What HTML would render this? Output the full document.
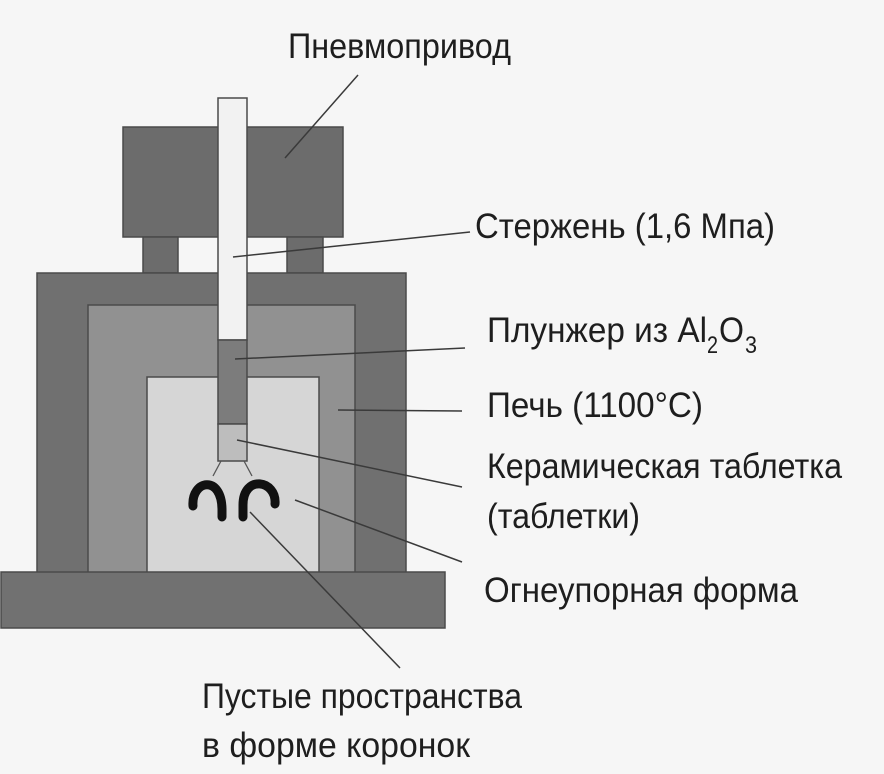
<!DOCTYPE html>
<html><head><meta charset="utf-8"><style>
html,body{margin:0;padding:0;background:#f6f6f6;}
svg{display:block}
text{font-family:"Liberation Sans Narrow","Liberation Sans",sans-serif;fill:#1e1e1e;font-size:35px}
</style></head><body>
<svg width="884" height="774" viewBox="0 0 884 774" xmlns="http://www.w3.org/2000/svg">
<rect width="884" height="774" fill="#f6f6f6"/>
<g stroke="#4a4a4a" stroke-width="1.5">
<rect x="123" y="127" width="220" height="110" fill="#6c6c6c"/>
<rect x="143" y="237" width="35" height="36" fill="#6c6c6c"/>
<rect x="287" y="237" width="36" height="36" fill="#6c6c6c"/>
<rect x="37" y="273" width="369" height="300" fill="#707070"/>
<rect x="88" y="305" width="267" height="268" fill="#919191"/>
<rect x="147" y="377" width="172" height="196" fill="#d6d6d6"/>
<rect x="1" y="572" width="444" height="56" fill="#717171"/>
<rect x="218" y="98" width="29" height="242" fill="#f2f2f2"/>
<rect x="218" y="340" width="29" height="84" fill="#7c7c7c"/>
<rect x="218" y="424" width="29" height="37" fill="#bdbdbd"/>
</g>
<g stroke="#555" stroke-width="1.3">
<line x1="221" y1="461" x2="213" y2="476"/>
<line x1="244" y1="461" x2="252" y2="476"/>
</g>
<g fill="none" stroke="#111" stroke-width="9" stroke-linecap="round">
<path d="M193 506 C191 480 222 474 222 510 L222 517"/>
<path d="M243 517 L243 505 C243 474 277 480 275 504"/>
</g>
<g stroke="#3a3a3a" stroke-width="1.5">
<line x1="358" y1="75" x2="285" y2="158"/>
<line x1="470" y1="232" x2="233" y2="257"/>
<line x1="465" y1="348" x2="235" y2="359"/>
<line x1="462" y1="411" x2="338" y2="410"/>
<line x1="462" y1="487" x2="237" y2="440"/>
<line x1="462" y1="562" x2="295" y2="500"/>
<line x1="400" y1="668" x2="250" y2="512"/>
</g>
<text x="288" y="58" textLength="223" lengthAdjust="spacingAndGlyphs">Пневмопривод</text>
<text x="475" y="238" textLength="300" lengthAdjust="spacingAndGlyphs">Стержень (1,6 Мпа)</text>
<text x="487" y="342" textLength="220" lengthAdjust="spacingAndGlyphs">Плунжер из Al</text>
<text x="707" y="353" style="font-size:24px" textLength="11" lengthAdjust="spacingAndGlyphs">2</text>
<text x="719" y="342" textLength="25" lengthAdjust="spacingAndGlyphs">O</text>
<text x="745" y="353" style="font-size:24px" textLength="12" lengthAdjust="spacingAndGlyphs">3</text>
<text x="487" y="417" textLength="216" lengthAdjust="spacingAndGlyphs">Печь (1100°C)</text>
<text x="487" y="478" textLength="355" lengthAdjust="spacingAndGlyphs">Керамическая таблетка</text>
<text x="487" y="528" textLength="153" lengthAdjust="spacingAndGlyphs">(таблетки)</text>
<text x="484" y="602" textLength="314" lengthAdjust="spacingAndGlyphs">Огнеупорная форма</text>
<text x="202" y="708" textLength="320" lengthAdjust="spacingAndGlyphs">Пустые пространства</text>
<text x="202" y="757" textLength="268" lengthAdjust="spacingAndGlyphs">в форме коронок</text>
</svg>
</body></html>
